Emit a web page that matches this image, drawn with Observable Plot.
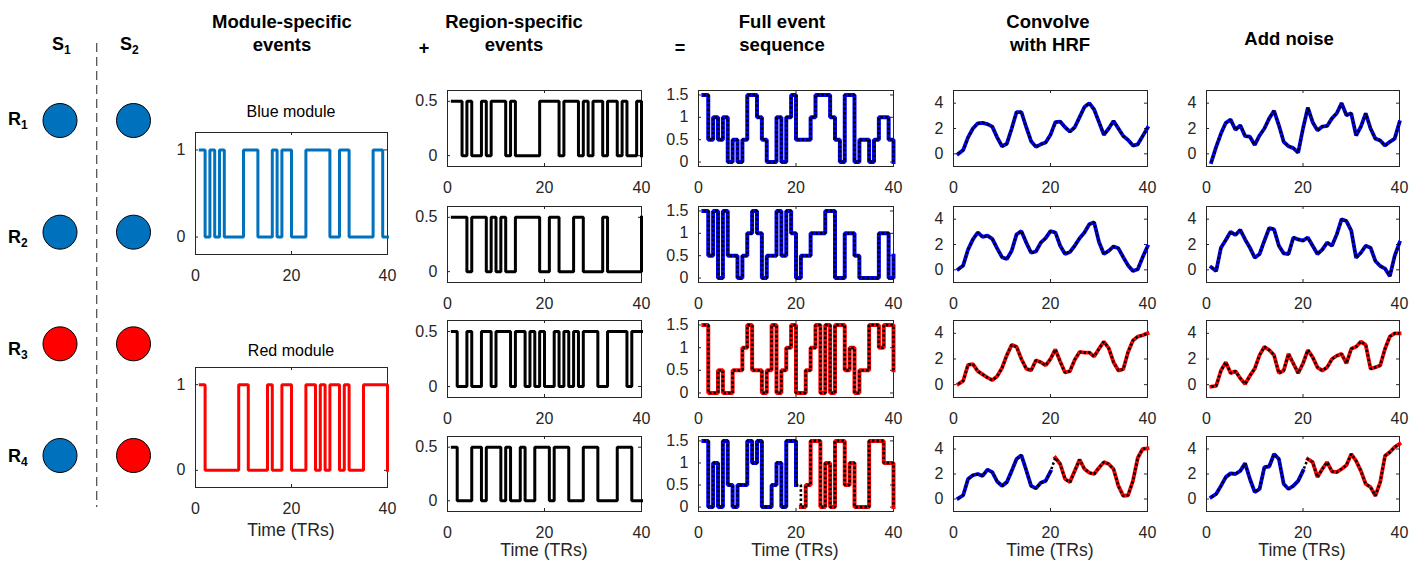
<!DOCTYPE html>
<html><head><meta charset="utf-8">
<script src="https://cdn.jsdelivr.net/npm/d3@7"></script>
<script src="https://cdn.jsdelivr.net/npm/@observablehq/plot@0.6"></script>
<style>
body{margin:0;background:#fff;}
#fig{position:relative;width:1424px;height:565px;overflow:hidden;font-family:"Liberation Sans",Arial,Helvetica,sans-serif;color:#000;}
.t{position:absolute;white-space:nowrap;}
.t sub{font-size:12px;vertical-align:-4px;line-height:0;}
</style></head><body><div id="fig"></div>
<script>
// ---------------- data ----------------
const TR = [1,2,3,4,5,6,7,8,9,10,11,12,13,14,15,16,17,18,19,20,21,22,23,24,25,26,27,28,29,30,31,32,33,34,35,36,37,38,39,40];
const sessions = [1, 2];            // S1, S2
const regionRows = [1, 2, 3, 4];    // R1..R4
const circleColor = [["#0072BD","#0072BD"],["#0072BD","#0072BD"],["#FF0000","#FF0000"],["#0072BD","#FF0000"]];

const blueModule = [1,0,1,0,1,0,0,0,0,1,1,1,0,0,0,1,0,1,1,0,0,0,1,1,1,1,1,0,0,1,1,0,0,0,0,0,1,1,0,0];
const redModule  = [1,0,0,0,0,0,0,0,1,1,0,0,0,0,1,0,0,1,1,0,0,0,1,1,0,1,0,1,1,0,1,0,0,0,1,1,1,1,1,0];

const region1 = [.5,.5,0,.5,0,0,.5,0,.5,.5,.5,0,.5,0,0,0,0,0,.5,.5,.5,.5,0,.5,.5,.5,0,.5,0,.5,.5,0,.5,.5,0,.5,0,0,.5,0];
const region2 = [.5,.5,.5,0,.5,.5,.5,0,.5,0,.5,0,0,.5,.5,.5,.5,.5,0,0,.5,.5,0,0,0,.5,.5,0,0,0,0,.5,0,0,0,0,0,0,0,.5];
const region3 = [.5,0,0,.5,0,0,.5,.5,0,.5,.5,.5,0,.5,.5,0,.5,0,.5,0,0,.5,0,.5,0,.5,0,.5,.5,.5,0,0,.5,.5,.5,.5,0,.5,.5,.5];
const region4 = [.5,0,0,0,.5,.5,0,.5,.5,.5,0,.5,0,0,.5,0,0,.5,.5,.5,0,.5,.5,.5,0,0,0,.5,.5,.5,0,0,0,0,.5,.5,.5,0,0,0];

const full1 = [1.5,.5,1,.5,1,0,.5,0,.5,1.5,1.5,1,.5,0,0,1,0,1,1.5,.5,.5,.5,1,1.5,1.5,1.5,1,.5,0,1.5,1.5,0,.5,.5,0,.5,1,1,.5,0];
const full2 = [1.5,.5,1.5,0,1.5,.5,.5,0,.5,1,1.5,1,0,.5,.5,1.5,.5,1.5,1,0,.5,.5,1,1,1,1.5,1.5,0,0,1,1,.5,0,0,0,0,1,1,0,.5];
const full3 = [1.5,0,0,.5,0,0,.5,.5,1,1.5,.5,.5,0,.5,1.5,0,.5,1,1.5,0,0,.5,1,1.5,0,1.5,0,1.5,1.5,.5,1,0,.5,.5,1.5,1.5,1,1.5,1.5,.5];
const full4 = [1.5,0,1,0,1.5,.5,0,.5,.5,1.5,1,1.5,0,0,.5,1,0,1.5,1.5,.5,0,.5,1.5,1.5,0,1,0,1.5,1.5,.5,1,0,0,0,1.5,1.5,1.5,1,1,0];

const hrf1 = [0.0,0.3,1.3,2.0,2.4,2.45,2.35,2.15,1.3,0.6,0.8,2.0,3.3,3.3,2.1,1.0,0.55,0.75,0.9,1.5,2.5,2.55,2.1,1.75,2.1,2.9,3.7,4.0,3.5,2.5,1.5,2.0,2.6,2.0,1.4,1.1,0.65,0.75,1.4,2.05];
const hrf2 = [0.05,0.35,1.6,2.4,2.95,2.6,2.7,2.45,1.7,1.0,0.85,1.5,2.8,3.05,2.15,1.35,1.45,2.15,2.5,3.05,2.95,1.9,1.25,1.4,1.9,2.5,2.95,3.6,3.75,2.2,1.25,1.5,1.85,1.7,1.0,0.35,-0.1,0.05,1.0,1.85];
const hrf3 = [0.05,0.3,1.55,1.6,1.05,0.8,0.55,0.35,0.65,1.3,2.3,3.1,2.95,2.0,1.25,1.1,1.9,1.75,1.5,2.0,2.75,1.8,0.95,1.05,1.95,2.55,2.5,2.5,2.2,2.8,3.35,2.85,1.75,1.1,1.2,2.55,3.45,3.75,3.85,4.0];
const hrf4 = [0.05,0.3,1.6,1.9,2.0,1.85,2.35,2.15,1.4,1.05,1.35,2.25,3.2,3.5,2.3,1.05,0.85,1.3,1.45,2.2,3.3,2.8,1.6,1.35,2.25,3.15,2.4,2.1,2.0,2.5,2.95,2.8,2.4,1.05,0.25,0.3,1.45,3.3,4.0,4.05];

const noisy1 = [-0.65,0.55,1.6,2.45,2.7,1.9,2.25,1.4,1.35,0.7,1.45,2.0,2.8,3.4,2.25,0.95,0.6,0.45,0.1,2.0,3.65,2.5,1.85,2.15,2.2,2.8,3.2,4.0,3.05,3.2,1.45,2.15,3.2,2.0,1.2,1.05,0.65,0.95,1.2,2.5];
const noisy2 = [0.2,-0.1,1.75,2.35,3.0,2.75,3.15,2.4,1.75,0.95,1.25,2.3,3.3,3.2,1.9,1.3,1.25,2.55,2.4,2.3,2.55,1.9,1.25,1.6,2.15,1.9,2.8,4.0,3.85,3.1,0.95,1.35,1.9,1.75,0.7,0.3,0.1,-0.5,1.1,2.15];
const noisy3 = [-0.15,-0.1,1.1,1.75,0.9,1.05,0.5,0.05,0.7,1.25,2.3,2.95,2.7,2.3,0.9,1.1,2.4,1.65,0.9,1.65,2.7,2.15,1.35,1.1,1.35,2.0,2.25,2.4,1.65,2.8,2.95,3.35,3.1,1.25,1.35,1.5,2.8,3.75,4.0,4.0];
const noisy4 = [0.15,0.4,1.05,1.75,2.05,2.0,2.25,2.85,1.6,0.55,0.8,2.55,2.6,3.6,3.2,1.2,0.8,1.05,1.45,2.25,3.2,2.95,1.75,2.4,2.95,2.2,2.15,2.4,2.7,3.6,3.05,2.25,1.2,0.95,0.25,1.35,3.45,3.75,4.15,4.4];

const xTicks = [0, 20, 40];
const yTicksModule = [0, 1];
const yTicksRegion = [0, 0.5];
const yTicksFull = [0, 0.5, 1, 1.5];
const yTicksBold = [0, 2, 4];

// ---------------- drawing ----------------
const FONT = '"Liberation Sans", Arial, Helvetica, sans-serif';
const AX = "#262626";
const BLUE_M = "#0072BD", RED = "#FF0000", BLUE = "#0000FF";
const fig = document.getElementById("fig");

function txt(html, x, baseline, fs, opts = {}) {
  const d = document.createElement("div");
  d.className = "t";
  d.innerHTML = html;
  d.style.fontSize = fs + "px";
  d.style.lineHeight = fs + "px";
  d.style.fontWeight = opts.bold ? "bold" : "normal";
  d.style.top = (baseline - 0.8465 * fs) + "px";
  d.style.color = opts.color || "#000";
  d.style.left = x + "px";
  if (opts.anchor !== "start") d.style.transform = "translateX(-50%)";
  fig.appendChild(d);
}

function rows(t, arr) { return arr.map((v, i) => ({t: t[i], v})); }

function panel(o) {
  const ml = 60, mr = 20, mt = 10, mb = 40;
  const iw = o.right - o.left, ih = o.bottom - o.top, tk = 3;
  const marks = [
    Plot.frame({stroke: AX, strokeWidth: 1}),
    Plot.tickX(xTicks, {x: d => d, insetTop: ih - tk, stroke: AX}),
    Plot.tickX(xTicks, {x: d => d, insetBottom: ih - tk, stroke: AX}),
    Plot.tickY(o.yticks, {y: d => d, insetRight: iw - tk, stroke: AX}),
    Plot.tickY(o.yticks, {y: d => d, insetLeft: iw - tk, stroke: AX}),
    Plot.axisX(xTicks, {tickSize: 0, tickPadding: 15, tickFormat: d => String(d), label: null}),
    Plot.axisY(o.yticks, {tickSize: 0, tickPadding: 10, tickFormat: d => String(d), label: null})
  ];
  for (const s of o.series) {
    marks.push(Plot.line(s.data, {
      x: "t", y: "v", curve: o.step ? "step-after" : "linear",
      stroke: s.color, strokeWidth: s.width,
      strokeDasharray: s.dash || null,
      strokeLinecap: s.dash ? "butt" : "square", strokeLinejoin: "miter"
    }));
  }
  const svg = Plot.plot({
    width: iw + ml + mr, height: ih + mt + mb,
    marginLeft: ml, marginRight: mr, marginTop: mt, marginBottom: mb,
    x: {domain: [0, 40], axis: null},
    y: {domain: o.ydom, axis: null},
    style: {fontFamily: FONT, fontSize: "16px", color: AX, background: "transparent", overflow: "visible"},
    marks
  });
  const d = document.createElement("div");
  d.style.cssText = `position:absolute;left:${o.left - ml}px;top:${o.top - mt}px;`;
  d.appendChild(svg);
  fig.appendChild(d);
}

// left schematic
{
  const cells = [];
  regionRows.forEach((r, i) => sessions.forEach((s, j) => cells.push({r, s, c: circleColor[i][j]})));
  const svg = Plot.plot({
    width: 160, height: 565, margin: 0,
    x: {domain: [1, 2], range: [59.5, 133], axis: null},
    y: {domain: [1, 4], range: [120, 455], axis: null},
    color: {type: "identity"},
    style: {background: "transparent", overflow: "visible"},
    marks: [
      Plot.ruleX([1.5], {x: d => d, insetTop: 43, insetBottom: 58, stroke: "#222", strokeWidth: 1, strokeDasharray: "9,5"}),
      Plot.dot(cells, {x: "s", y: "r", r: 17, fill: "c", stroke: "#000", strokeWidth: 1})
    ]
  });
  const d = document.createElement("div");
  d.style.cssText = "position:absolute;left:0;top:0;";
  d.appendChild(svg);
  fig.appendChild(d);
  txt("S<sub>1</sub>", 52, 50, 18, {bold: true, anchor: "start"});
  txt("S<sub>2</sub>", 120, 50, 18, {bold: true, anchor: "start"});
  [125, 243, 355, 462].forEach((b, i) => txt(`R<sub>${i + 1}</sub>`, 8, b, 18, {bold: true, anchor: "start"}));
}

// column titles
txt("Module-specific", 282, 29, 18.5, {bold: true});
txt("events", 282, 52, 18.5, {bold: true});
txt("+", 424, 54, 18, {bold: true});
txt("Region-specific", 514, 29, 18.5, {bold: true});
txt("events", 514, 52, 18.5, {bold: true});
txt("=", 680, 54, 18, {bold: true});
txt("Full event", 782, 29, 18.5, {bold: true});
txt("sequence", 782, 52, 18.5, {bold: true});
txt("Convolve", 1048, 29, 18.5, {bold: true});
txt("with HRF", 1050, 52, 18.5, {bold: true});
txt("Add noise", 1289, 46, 18.5, {bold: true});

// column 1: module events
panel({left: 195, right: 387, top: 132, bottom: 254, ydom: [-0.2, 1.2], yticks: yTicksModule, step: true,
  series: [{data: rows(TR, blueModule), color: BLUE_M, width: 3}]});
panel({left: 195, right: 387, top: 367, bottom: 487, ydom: [-0.2, 1.2], yticks: yTicksModule, step: true,
  series: [{data: rows(TR, redModule), color: RED, width: 3}]});
txt("Blue module", 291, 118, 16, {color: "#000"});
txt("Red module", 291, 357, 16, {color: "#000"});
txt("Time (TRs)", 291, 537, 17.6, {color: AX});

const tops = [90, 206, 320, 436], bottoms = [166, 282, 397, 511];
const regions = [region1, region2, region3, region4];
const fulls = [full1, full2, full3, full4];
const hrfs = [hrf1, hrf2, hrf3, hrf4];
const noisies = [noisy1, noisy2, noisy3, noisy4];
const rowColor = [BLUE, BLUE, RED, null];
const TR1 = TR.slice(0, 20), TR2 = TR.slice(20);

function layered(arr, i, wide) {
  const dots = {data: rows(TR, arr), color: "#000", width: 2.6, dash: "2.4,2.2"};
  if (rowColor[i]) return [{data: rows(TR, arr), color: rowColor[i], width: wide}, dots];
  return [
    {data: rows(TR1, arr.slice(0, 20)), color: BLUE, width: wide},
    {data: rows(TR2, arr.slice(20)), color: RED, width: wide},
    dots
  ];
}

for (let i = 0; i < 4; i++) {
  panel({left: 447, right: 641, top: tops[i], bottom: bottoms[i], ydom: [-0.1, 0.6], yticks: yTicksRegion, step: true,
    series: [{data: rows(TR, regions[i]), color: "#000", width: 3}]});
  panel({left: 698, right: 893, top: tops[i], bottom: bottoms[i], ydom: [-0.1, 1.6], yticks: yTicksFull, step: true,
    series: layered(fulls[i], i, 4)});
  panel({left: 953, right: 1147, top: tops[i], bottom: bottoms[i], ydom: [-1, 5], yticks: yTicksBold, step: false,
    series: layered(hrfs[i], i, 3.8)});
  panel({left: 1206, right: 1399, top: tops[i], bottom: bottoms[i], ydom: [-1, 5], yticks: yTicksBold, step: false,
    series: layered(noisies[i], i, 3.8)});
}
[544, 795, 1050, 1302].forEach(x => txt("Time (TRs)", x, 557, 17.6, {color: AX}));
</script></body></html>
